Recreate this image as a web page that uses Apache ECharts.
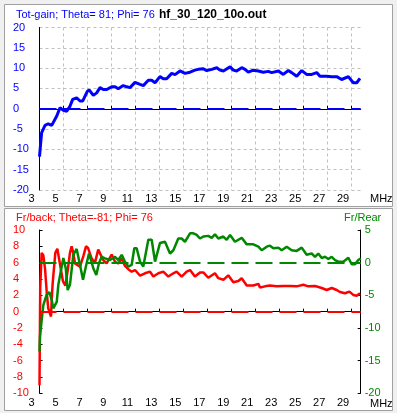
<!DOCTYPE html>
<html>
<head>
<meta charset="utf-8">
<script src="https://cdn.jsdelivr.net/npm/echarts@6/dist/echarts.min.js"></script>
<style>
  html, body { margin: 0; padding: 0; background: #f0f0f0; }
  #main { width: 397px; height: 413px; }
</style>
</head>
<body>
<div id="main"></div>
<script>
// x ticks (MHz): 3, 5, ... 29 -> from min with step 2
const xMin = 3
const xMax = 29.8
const xStep = 2

// Tot-gain (top panel)
const gainMHz = [3.0, 3.1, 3.18, 3.46, 3.73, 4.02, 4.15, 4.44, 4.71, 4.99, 5.27, 5.54, 5.77, 5.82, 6.10, 6.38, 6.60, 6.99, 7.16, 7.49, 7.77, 8.05, 8.32, 8.61, 9.02, 9.30, 9.57, 9.99, 10.28, 10.55, 10.97, 11.39, 11.66, 12.08, 12.36, 12.64, 13.05, 13.33, 13.61, 14.03, 14.31, 14.72, 15.14, 15.56, 15.97, 16.25, 16.39, 16.67, 16.95, 17.37, 17.79, 18.06, 18.34, 18.90, 19.17, 19.45, 19.87, 20.15, 20.42, 20.84, 21.26, 21.67, 22.09, 22.37, 22.93, 23.34, 23.76, 24.04, 24.46, 24.88, 25.29, 25.71, 26.13, 26.40, 26.96, 27.38, 27.80, 28.21, 28.77, 29.18, 29.47, 29.74]
const gainDb = [-11.8, -8.4, -5.9, -4.1, -3.7, -4.1, -4.3, -1.8, 0.25, -0.4, -0.6, 0.6, 2.3, 2.7, 2.7, 1.9, 1.9, 4.3, 4.6, 3.3, 3.9, 5.2, 4.75, 4.75, 5.4, 5.4, 4.9, 5.7, 5.4, 5.2, 6.5, 6.0, 5.7, 7.0, 7.0, 6.4, 7.9, 7.4, 7.4, 8.7, 8.4, 9.3, 8.7, 9.0, 9.5, 9.7, 9.5, 9.85, 9.4, 9.7, 10.1, 9.5, 9.3, 10.3, 9.5, 9.3, 10.1, 9.7, 9.0, 9.5, 9.3, 9.0, 9.2, 8.9, 9.3, 8.45, 9.4, 8.9, 8.0, 9.4, 8.45, 8.45, 8.9, 8.0, 8.0, 7.9, 7.9, 7.2, 7.9, 6.4, 6.4, 7.5]

// Fr/back (bottom panel, left axis)
const fbMHz = [3.0, 3.06, 3.18, 3.32, 3.46, 3.6, 3.73, 3.96, 4.02, 4.1, 4.32, 4.49, 4.6, 4.77, 4.96, 5.16, 5.35, 5.54, 5.68, 5.82, 5.96, 6.38, 6.66, 6.88, 7.05, 7.35, 7.63, 7.9, 8.05, 8.32, 8.6, 9.02, 9.3, 9.57, 9.85, 10.13, 10.41, 10.69, 10.97, 11.39, 11.8, 12.22, 12.5, 12.92, 13.33, 13.75, 14.17, 14.44, 14.86, 15.28, 15.56, 15.97, 16.39, 16.67, 17.08, 17.64, 17.92, 18.34, 18.75, 19.17, 19.59, 19.87, 20.29, 20.84, 21.26, 21.4, 21.81, 22.23, 22.79, 23.34, 23.9, 24.46, 25.01, 25.43, 25.99, 26.55, 26.96, 27.38, 27.8, 28.07, 28.49, 28.86, 29.18, 29.47, 29.74]
const fbDb = [-9.0, 3.0, 7.2, 6.9, 5.3, 2.45, 0.4, -0.6, 1.5, 3.5, 7.2, 7.7, 7.6, 5.3, 3.7, 3.2, 5.0, 7.2, 8.0, 7.2, 5.9, 5.5, 6.8, 8.0, 7.8, 6.5, 6.0, 7.6, 7.5, 6.3, 5.9, 7.0, 6.1, 5.9, 6.5, 5.6, 5.2, 4.9, 5.1, 4.4, 4.7, 4.9, 4.3, 4.7, 4.9, 4.3, 4.7, 4.9, 4.3, 4.9, 5.1, 4.3, 4.8, 4.8, 4.15, 4.7, 4.1, 3.9, 4.45, 3.6, 3.75, 4.1, 3.2, 3.2, 3.4, 2.95, 3.1, 3.2, 3.1, 3.15, 3.15, 3.1, 3.3, 3.1, 3.15, 2.9, 2.65, 2.9, 2.65, 2.4, 2.25, 2.45, 2.05, 1.95, 2.25]

// Fr/Rear (bottom panel, right axis)
const frMHz = [3.0, 3.04, 3.13, 3.18, 3.32, 3.6, 3.82, 4.02, 4.15, 4.44, 4.57, 4.85, 4.99, 5.19, 5.35, 5.54, 5.82, 6.1, 6.38, 6.63, 6.88, 7.13, 7.49, 7.74, 7.96, 8.19, 8.47, 8.88, 9.3, 9.57, 9.86, 10.13, 10.41, 10.69, 10.91, 11.11, 11.39, 11.66, 12.08, 12.36, 12.64, 13.05, 13.47, 13.89, 14.17, 14.58, 14.86, 15.14, 15.56, 15.84, 16.12, 16.39, 16.67, 16.81, 17.08, 17.37, 17.64, 17.92, 18.34, 18.62, 18.9, 19.31, 19.87, 20.29, 20.84, 21.26, 21.54, 21.96, 22.23, 22.51, 22.93, 23.21, 23.63, 24.04, 24.46, 24.88, 25.29, 25.71, 25.99, 26.26, 26.55, 26.82, 27.1, 27.38, 27.66, 27.93, 28.35, 28.77, 29.05, 29.33, 29.6, 29.8]
const frDb = [-13.6, -11.3, -9.8, -8.8, -6.5, -4.9, -4.5, -5.7, -7.0, -6.0, -3.4, -0.6, 0.7, -0.85, -4.2, -3.4, 1.2, 2.1, -0.35, -2.6, -0.5, 1.4, -0.85, -1.9, -0.1, 0.9, 0.65, 0.4, 0.9, 0.4, 1.2, 0.15, -0.6, -0.35, 2.2, 2.2, 0.15, -0.6, 3.5, 3.5, 0.15, 3.0, 3.2, 1.4, 1.9, 3.7, 3.7, 3.2, 4.5, 4.5, 4.25, 3.7, 4.0, 4.25, 4.1, 3.8, 4.35, 3.7, 4.0, 3.5, 4.25, 3.2, 3.8, 2.8, 2.8, 2.45, 1.9, 2.45, 2.6, 2.2, 2.3, 1.9, 2.45, 1.9, 1.8, 2.3, 1.2, 1.4, 0.9, 1.4, 0.7, 0.9, 0.55, 0.9, 0.4, 0.15, 0.15, 0.75, -0.25, -0.25, 0.4, 0.65]

const FONT = '"Liberation Sans", Arial, sans-serif'
const zip = (xs, ys) => xs.map((x, i) => [x, ys[i]])

const chart = echarts.init(document.getElementById('main'))

const xAxisBase = (gridIndex, margin, grid) => ({
  gridIndex,
  type: 'value',
  min: xMin,
  max: xMax,
  interval: xStep,
  axisLine: { show: true, lineStyle: { color: '#000', width: 1 } },
  axisTick: { show: true, inside: true, length: 3, lineStyle: { color: '#000' } },
  axisLabel: {
    showMaxLabel: false,
    margin,
    color: '#000',
    fontSize: 11,
    fontFamily: FONT,
    padding: [0, 16, 0, 0]
  },
  splitLine: { show: grid, showMaxLine: false, lineStyle: { color: '#c0c0c0', type: [3, 3], width: 1 } }
})

const zeroLine = (color) => ({
  silent: true,
  symbol: 'none',
  animation: false,
  label: { show: false },
  lineStyle: { color, type: [17, 7], width: 2 },
  data: [{ yAxis: 0 }]
})

chart.setOption({
  animation: false,
  backgroundColor: '#f0f0f0',
  grid: [
    { left: 39.5, top: 27.5, width: 321.2, height: 162.5 },
    { left: 39.5, top: 230, width: 321.2, height: 163.3 }
  ],
  graphic: [
    { type: 'rect', z: -10, shape: { x: 4.5, y: 4.5, width: 388, height: 202 }, style: { fill: '#fff', stroke: '#a0a0a0', lineWidth: 1 } },
    { type: 'rect', z: -10, shape: { x: 4.5, y: 208.5, width: 388, height: 202 }, style: { fill: '#fff', stroke: '#a0a0a0', lineWidth: 1 } },
    { type: 'text', x: 16, y: 15, style: { text: 'Tot-gain; Theta= 81; Phi= 76', fill: '#0000ff', font: '11px ' + FONT, verticalAlign: 'middle' } },
    { type: 'text', x: 159, y: 15, style: { text: 'hf_30_120_10o.out', fill: '#000', font: 'bold 12px ' + FONT, verticalAlign: 'middle' } },
    { type: 'text', x: 370, y: 199, style: { text: 'MHz', fill: '#000', font: '11px ' + FONT, verticalAlign: 'middle' } },
    { type: 'text', x: 16, y: 218, style: { text: 'Fr/back; Theta=-81; Phi= 76', fill: '#ff0000', font: '11px ' + FONT, verticalAlign: 'middle' } },
    { type: 'text', x: 344, y: 218, style: { text: 'Fr/Rear', fill: '#008800', font: '11px ' + FONT, verticalAlign: 'middle' } },
    { type: 'text', x: 370, y: 404, style: { text: 'MHz', fill: '#000', font: '11px ' + FONT, verticalAlign: 'middle' } }
  ],
  xAxis: [xAxisBase(0, 3, true), xAxisBase(1, 4, false)],
  yAxis: [
    {
      gridIndex: 0, type: 'value', min: -20, max: 20, interval: 5,
      axisLine: { show: true, lineStyle: { color: '#000' } },
      axisTick: { show: false },
      axisLabel: { align: 'left', margin: 26.5, color: '#0000ff', fontSize: 11, fontFamily: FONT },
      splitLine: { show: true, lineStyle: { color: '#c0c0c0', type: [3, 3], width: 1 } }
    },
    {
      gridIndex: 1, type: 'value', min: -10, max: 10, interval: 2,
      axisLine: { show: true, lineStyle: { color: '#000' } },
      axisTick: { show: true, inside: true, length: 3, lineStyle: { color: '#000' } },
      axisLabel: { align: 'left', margin: 26.5, color: '#ff0000', fontSize: 11, fontFamily: FONT },
      splitLine: { show: false }
    },
    {
      gridIndex: 1, type: 'value', position: 'right', min: -20, max: 5, interval: 5,
      axisLine: { show: true, lineStyle: { color: '#000' } },
      axisTick: { show: true, inside: true, length: 3, lineStyle: { color: '#000' } },
      axisLabel: { align: 'left', margin: 4, color: '#008800', fontSize: 11, fontFamily: FONT },
      splitLine: { show: false }
    }
  ],
  series: [
    {
      type: 'line', xAxisIndex: 0, yAxisIndex: 0,
      data: zip(gainMHz, gainDb),
      showSymbol: false,
      lineStyle: { color: '#0000ff', width: 3 },
      markLine: zeroLine('#0000ff')
    },
    {
      type: 'line', xAxisIndex: 1, yAxisIndex: 1,
      data: zip(fbMHz, fbDb),
      showSymbol: false,
      lineStyle: { color: '#ff0000', width: 2.5 },
      markLine: zeroLine('#ff0000')
    },
    {
      type: 'line', xAxisIndex: 1, yAxisIndex: 2,
      data: zip(frMHz, frDb),
      showSymbol: false,
      lineStyle: { color: '#008800', width: 2.5 },
      markLine: zeroLine('#008800')
    }
  ]
})
</script>
</body>
</html>
